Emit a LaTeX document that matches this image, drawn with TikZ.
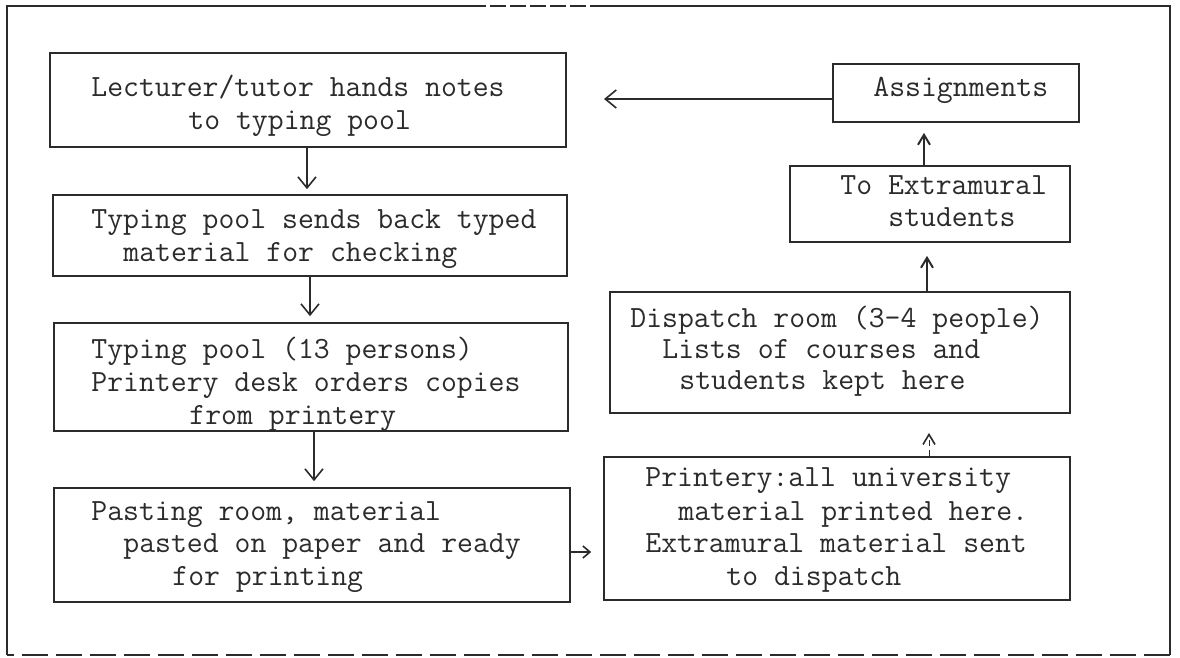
\documentclass[tikz,border=0pt]{standalone}
\usetikzlibrary{arrows.meta,fit}
\definecolor{ink}{HTML}{2B2B2B}
\newcommand\tyfont{\ttfamily\fontsize{15.43pt}{16.5pt}\selectfont}
\begin{document}
\begin{tikzpicture}[x=0.5pt,y=-0.5pt,
  box/.style={draw=ink, line width=0.85pt, inner sep=0pt},
  txt/.style={anchor=base west, inner sep=0pt, font=\tyfont, text=ink},
  frame/.style={draw=ink, line width=0.9pt},
  arr/.style={draw=ink, line width=0.8pt, -{Straight Barb[length=5.5pt,width=9pt,line width=0.8pt]}},
  uparr/.style={draw=ink, line width=0.8pt, -{Straight Barb[length=5pt,width=6pt,line width=1pt]}},
  smarr/.style={draw=ink, line width=0.8pt, -{Straight Barb[length=3.5pt,width=6pt,line width=0.8pt]}},
  dasharr/.style={draw=ink, line width=0.5pt, densely dashed, -{Straight Barb[length=5pt,width=6pt,line width=0.8pt,sep]}}]
\useasboundingbox (0,0) rectangle (1180,658);
\fill[white] (0,0) rectangle (1180,658);

% outer frame
\coordinate (f1) at (7,6);
\coordinate (f2) at (470,6);
\coordinate (f3) at (595,6);
\coordinate (f4) at (1170,6);
\coordinate (f5) at (1170,655);
\coordinate (f6) at (7,655);
\draw[frame] (f6) -- (f1) -- (f2);
\draw[frame, dash pattern=on 8pt off 2pt] (f2) -- (f3);
\draw[frame] (f3) -- (f4) -- (f5);
\draw[frame, dash pattern=on 13pt off 4pt] (f5) -- (f6);

% boxes
\node[box, fit={(50,53) (566,147)}] (b1) {};
\node[box, fit={(53,195) (567,276)}] (b2) {};
\node[box, fit={(54,323) (568,431)}] (b3) {};
\node[box, fit={(54,488) (570,602)}] (b4) {};
\node[box, fit={(604,457) (1070,600)}] (b5) {};
\node[box, fit={(610,292) (1070,413)}] (b6) {};
\node[box, fit={(790,166) (1070,242)}] (b7) {};
\node[box, fit={(833,64) (1079,122)}] (b8) {};

% texts
\node[txt] (t1a) at (91,97) {Lecturer/tutor hands notes};
\node[txt] (t1b) at (188,130) {to typing pool};
\node[txt] (t2a) at (91,228) {Typing pool sends back typed};
\node[txt] (t2b) at (123,262) {material for checking};
\node[txt] (t3a) at (91,358) {Typing pool (13 persons)};
\node[txt] (t3b) at (91,392) {Printery desk orders copies};
\node[txt] (t3c) at (189,424) {from printery};
\node[txt] (t4a) at (91,520) {Pasting room, material};
\node[txt] (t4b) at (123,552) {pasted on paper and ready};
\node[txt] (t4c) at (172,585) {for printing};
\node[txt] (t5a) at (645,487) {Printery:all university};
\node[txt] (t5b) at (678,520) {material printed here.};
\node[txt] (t5c) at (645,552) {Extramural material sent};
\node[txt] (t5d) at (726,585) {to dispatch};
\node[txt] (t6a) at (630,328) {Dispatch room (3-4 people)};
\node[txt] (t6b) at (662,358) {Lists of courses and};
\node[txt] (t6c) at (679,389) {students kept here};
\node[txt] (t7a) at (840,195) {To Extramural};
\node[txt] (t7b) at (888,227) {students};
\node[txt] (t8a) at (873,97) {Assignments};

% connector x positions
\coordinate (x1) at (307,0);
\coordinate (x2) at (310,0);
\coordinate (x3) at (314,0);
\coordinate (y4) at (0,552);
\coordinate (x5) at (929,0);
\coordinate (x6) at (927,0);
\coordinate (x7) at (924,0);
\coordinate (e8) at (604,99);

\draw[arr, shorten >=2.5pt] (x1 |- b1.south) -- (x1 |- b2.north);
\draw[arr, shorten >=3pt] (x2 |- b2.south) -- (x2 |- b3.north);
\draw[arr, shorten >=3pt] (x3 |- b3.south) -- (x3 |- b4.north);
\draw[smarr, shorten >=6pt] (b4.east |- y4) -- (b5.west |- y4);
\draw[dasharr, shorten >=8.5pt] (x5 |- b5.north) -- (x5 |- b6.south);
\draw[uparr, shorten >=6.5pt] (x6 |- b6.north) -- (x6 |- b7.south);
\draw[uparr, shorten >=5pt] (x7 |- b7.north) -- (x7 |- b8.south);
\draw[arr, line width=0.6pt] (b8.west |- e8) -- (e8);
\end{tikzpicture}
\end{document}
